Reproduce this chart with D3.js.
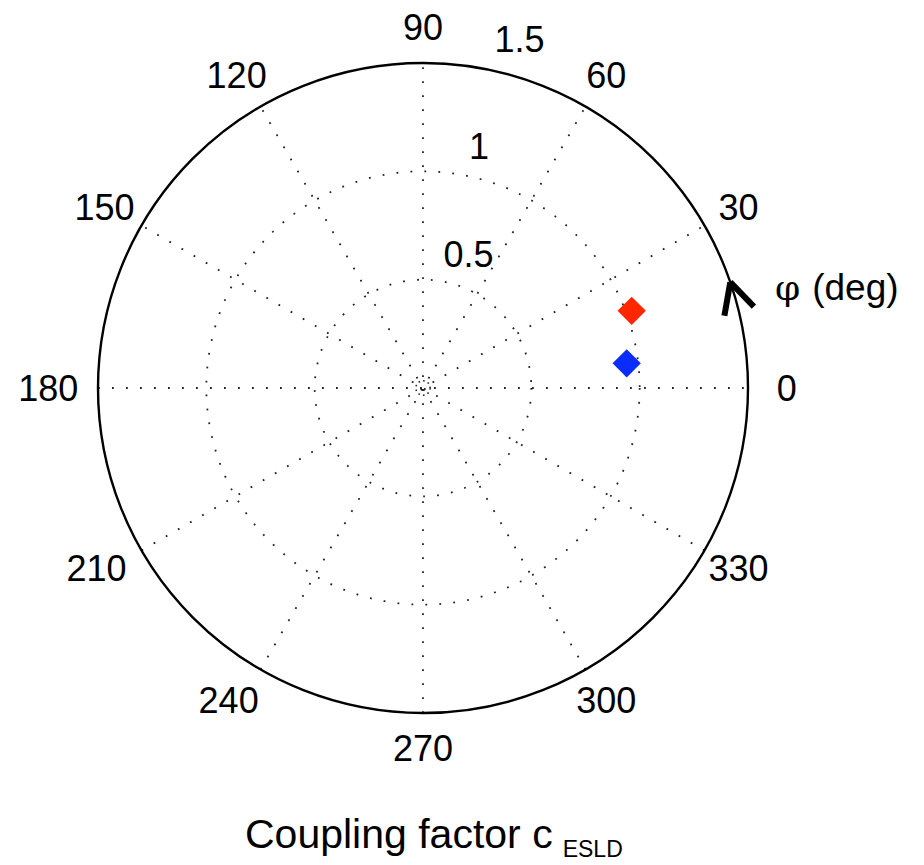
<!DOCTYPE html>
<html><head><meta charset="utf-8">
<script src="https://cdn.jsdelivr.net/npm/d3@7/dist/d3.min.js"></script>
<style>body{margin:0;background:#fff}</style>
</head><body>
<svg id="chart" width="924" height="865"></svg>
<script>
// ---- data ----
const angleTicks = [0, 30, 60, 90, 120, 150, 180, 210, 240, 270, 300, 330];
const radialTicks = [0.5, 1, 1.5];
const seriesNames = ["series A", "series B"];
const seriesAngles = [20.3, 6.9];      // degrees
const seriesRadii = [1.027, 0.947];
const axisTitle = "Coupling factor c";
const axisTitleSub = "ESLD";
const angleTitle = "(deg)";

// ---- layout ----
const W = 924, H = 865, cx = 423, cy = 388, R = 325;
const colors = ["#ff2600", "#0b2cff"];
const svg = d3.select("#chart");
svg.append("rect").attr("width", W).attr("height", H).attr("fill", "#fff");
const g = svg.append("g").attr("transform", `translate(${cx},${cy})`);

const r = d3.scaleLinear().domain([0, d3.max(radialTicks)]).range([0, R]);
const rad = d => d * Math.PI / 180;
const px = (a, v) => r(v) * Math.cos(rad(a));
const py = (a, v) => -r(v) * Math.sin(rad(a));
const font = "'Liberation Sans', Arial, Helvetica, sans-serif";

// spokes (full diameters)
g.selectAll("line.spoke").data(angleTicks.filter(a => a < 180)).join("line")
  .attr("class", "spoke")
  .attr("x1", a => px(a + 180, r.domain()[1])).attr("y1", a => py(a + 180, r.domain()[1]))
  .attr("x2", a => px(a, r.domain()[1])).attr("y2", a => py(a, r.domain()[1]))
  .attr("stroke", "#222").attr("stroke-width", 1.8)
  .attr("stroke-dasharray", "1.8 12.2").attr("stroke-linecap", "butt");

// inner dotted circles
g.selectAll("circle.grid").data(radialTicks.slice(0, -1)).join("circle")
  .attr("class", "grid").attr("r", d => r(d)).attr("fill", "none")
  .attr("stroke", "#222").attr("stroke-width", 1.8).attr("stroke-dasharray", "1.8 12.2");
// tiny center circle
g.append("circle").attr("r", r(0.033)).attr("fill", "none")
  .attr("stroke", "#222").attr("stroke-width", 1.5).attr("stroke-dasharray", "1.6 3.2");

// outer circle
g.append("circle").attr("r", r(d3.max(radialTicks))).attr("fill", "none")
  .attr("stroke", "#000").attr("stroke-width", 2.4);

// angle labels
const labShift = a => (a >= 180 && a < 270) ? -14 : (Math.cos(rad(a)) < -0.2 ? -6 : (Math.cos(rad(a)) > 0.2 ? 3 : 0));
g.selectAll("text.ang").data(angleTicks).join("text")
  .attr("class", "ang")
  .attr("x", a => 1.11 * R * Math.cos(rad(a)) + labShift(a))
  .attr("y", a => -1.11 * R * Math.sin(rad(a)))
  .attr("text-anchor", "middle").attr("dominant-baseline", "central")
  .attr("font-family", font).attr("font-size", 36).attr("fill", "#000")
  .text(a => a);

// radial labels
g.selectAll("text.rlab").data(radialTicks).join("text")
  .attr("class", "rlab")
  .attr("x", d => px(76.4, d) - 5)
  .attr("y", d => py(82, d) - 14)
  .attr("font-family", font).attr("font-size", 36).attr("fill", "#000")
  .text(d => d);

// direction arrow on outer circle
const arrowA = 19;
const tipX = px(arrowA, 1.5), tipY = py(arrowA, 1.5);
const back = Math.atan2(Math.cos(rad(arrowA)), Math.sin(rad(arrowA)));
[29, -25].forEach(off => {
  const t = back + rad(off);
  g.append("line").attr("x1", tipX).attr("y1", tipY)
    .attr("x2", tipX + 34 * Math.cos(t)).attr("y2", tipY + 34 * Math.sin(t))
    .attr("stroke", "#000").attr("stroke-width", 6).attr("stroke-linecap", "butt");
});
const at = g.append("text").attr("x", 352).attr("y", -88)
  .attr("font-family", font).attr("font-size", 37).attr("fill", "#000");
at.append("tspan").attr("font-family", "'DejaVu Serif', 'Liberation Serif', serif").attr("font-size", 36).text("φ");
at.append("tspan").attr("dx", 12).text(angleTitle);

// data points (diamonds)
const sym = d3.symbol().type(d3.symbolSquare).size(400);
g.selectAll("path.pt").data(seriesNames).join("path")
  .attr("class", "pt")
  .attr("d", sym)
  .attr("transform", (d, i) => `translate(${px(seriesAngles[i], seriesRadii[i])},${py(seriesAngles[i], seriesRadii[i])}) rotate(45)`)
  .attr("fill", (d, i) => colors[i]);

// bottom title
const t = svg.append("text").attr("x", 245).attr("y", 848)
  .attr("font-family", font).attr("font-size", 41).attr("fill", "#000");
t.append("tspan").text(axisTitle);
t.append("tspan").attr("dx", 10).attr("dy", 9).attr("font-size", 23).text(axisTitleSub);
</script>
</body></html>
